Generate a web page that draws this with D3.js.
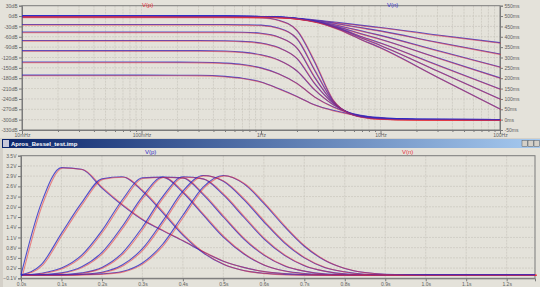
<!DOCTYPE html>
<html>
<head>
<meta charset="utf-8">
<script src="https://cdn.jsdelivr.net/npm/d3@7"></script>
<style>
html, body { margin:0; padding:0; background:#d4d0c8; }
svg { display:block; font-family:"Liberation Sans", Arial, sans-serif; }
</style>
</head>
<body>
<svg id="chart" width="540" height="287"></svg>
<script>
// ---- top pane: magnitude (dB, left) and group delay (ms, right) vs frequency
var freqs = [0.01, 0.1, 0.5, 1, 1.5, 2, 3, 4.5, 7, 10, 30, 100];
var magOrder2 = [0, 0, -0.5, -2, -4, -6.5, -12, -19, -27, -33, -55, -77];
var magOrder3 = [0, 0, -0.4, -1.8, -4, -7, -14, -23, -34, -43, -76, -110];
var magOrder4 = [0, 0, -0.3, -1.6, -3.8, -7.5, -16, -28, -43.5, -56, -100, -147.5];
var magOrder5 = [0, 0, -0.3, -1.5, -3.5, -7.5, -17, -32, -52, -67, -121, -179];
var magOrder6 = [0, 0, -0.2, -1.4, -3.3, -7.5, -18, -35, -60, -78, -142, -211];
var magOrder7 = [0, 0, -0.2, -1.3, -3, -7, -18, -37, -64, -85, -159, -240];
var magOrder8 = [0, 0, -0.2, -1.2, -2.8, -6.5, -18, -39, -69, -92, -177, -269];

var delayFreqs = [0.01, 0.1, 0.3, 0.5, 0.7, 1, 1.4, 2, 2.8, 4, 5.5, 8, 12, 20, 100];
var delayOrder2 = [215, 215, 214, 209, 200, 182, 150, 112, 72, 45, 28, 15, 7, 2.5, 0];
var delayOrder3 = [278, 278, 277, 273, 266, 250, 222, 175, 110, 62, 33, 14, 6, 2, 0];
var delayOrder4 = [333, 333, 333, 331, 326, 313, 288, 235, 145, 73, 33, 12, 5, 2, 0];
var delayOrder5 = [382, 382, 382, 381, 378, 370, 348, 295, 175, 80, 32, 11, 4, 1.5, 0];
var delayOrder6 = [423, 423, 423, 423, 422, 417, 399, 345, 205, 85, 31, 10, 3.5, 1, 0];
var delayOrder7 = [459, 459, 459, 459, 458, 456, 442, 390, 240, 90, 30, 9, 3, 1, 0];
var delayOrder8 = [495, 495, 495, 495, 494, 492, 480, 430, 280, 95, 30, 8, 3, 1, 0];

var dbTicks = [30, 0, -30, -60, -90, -120, -150, -180, -210, -240, -270, -300, -330];
var msTicks = [550, 500, 450, 400, 350, 300, 250, 200, 150, 100, 50, 0, -50];
var freqTicks = [0.01, 0.1, 1, 10, 100];
var freqLabels = ["10mHz", "100mHz", "1Hz", "10Hz", "100Hz"];

// ---- bottom pane: impulse responses
var times = [0, 0.05, 0.1, 0.15, 0.2, 0.25, 0.3, 0.35, 0.4, 0.45, 0.5, 0.55, 0.6, 0.65, 0.7, 0.75, 0.8, 0.85, 0.9, 1.0, 1.27];
var impOrder2 = [0, 2.1, 3.15, 3.1, 2.55, 2.05, 1.62, 1.3, 1.0, 0.68, 0.4, 0.22, 0.1, 0.04, 0.01, 0, 0, 0, 0, 0, 0];
var impOrder3 = [0, 0.3, 1.22, 2.12, 2.82, 2.88, 2.46, 1.83, 1.17, 0.65, 0.31, 0.13, 0.05, 0.01, 0, 0, 0, 0, 0, 0, 0];
var impOrder4 = [0, 0.05, 0.2, 0.58, 1.3, 2.2, 2.85, 2.87, 2.42, 1.76, 1.11, 0.62, 0.29, 0.12, 0.04, 0.01, 0, 0, 0, 0, 0];
var impOrder5 = [0, 0.01, 0.06, 0.24, 0.66, 1.42, 2.3, 2.87, 2.85, 2.36, 1.7, 1.06, 0.58, 0.27, 0.11, 0.03, 0.01, 0, 0, 0, 0];
var impOrder6 = [0, 0, 0.01, 0.06, 0.22, 0.64, 1.4, 2.3, 2.88, 2.82, 2.35, 1.7, 1.06, 0.58, 0.27, 0.11, 0.03, 0.01, 0, 0, 0];
var impOrder7 = [0, 0, 0, 0.02, 0.08, 0.29, 0.77, 1.58, 2.46, 2.92, 2.75, 2.22, 1.56, 0.95, 0.5, 0.22, 0.09, 0.02, 0, 0, 0];
var impOrder8 = [0, 0, 0, 0.01, 0.03, 0.1, 0.35, 0.9, 1.75, 2.58, 2.92, 2.68, 2.1, 1.43, 0.84, 0.43, 0.19, 0.07, 0.02, 0, 0];

var voltTicks = [3.5, 3.2, 2.9, 2.6, 2.3, 2.0, 1.7, 1.4, 1.1, 0.8, 0.5, 0.2, -0.1];
var timeTicks = [0, 0.1, 0.2, 0.3, 0.4, 0.5, 0.6, 0.7, 0.8, 0.9, 1.0, 1.1, 1.2];

var blueTrace = "#2b2bc8";
var redTrace = "#e8303a";
var gridColor = "#c8c6bd";
var axisColor = "#7a7a7a";
var labelColor = "#5e5e5e";
var paneColor = "#e4e2da";

var svg = d3.select("#chart");

function Pane(g, x0, y0, x1, y1) {
    g.append("rect")
        .attr("x", x0).attr("y", y0)
        .attr("width", x1 - x0).attr("height", y1 - y0)
        .attr("fill", paneColor);
}

function Trace(g, xs, ys, xScale, yScale, color, shift, opacity) {
    var pts = xs.map(function (d, i) { return [d, ys[i]]; });
    var line = d3.line()
        .x(function (d) { return xScale(d[0]); })
        .y(function (d) { return yScale(d[1]); })
        .curve(d3.curveMonotoneX);
    g.append("path")
        .attr("d", line(pts))
        .attr("fill", "none")
        .attr("stroke", color)
        .attr("stroke-width", 1.1)
        .attr("stroke-opacity", opacity)
        .attr("transform", "translate(" + shift[0] + "," + shift[1] + ")");
}

// ================= TOP PANE =================
var topPane = svg.append("g");
Pane(topPane, 0, 0, 540, 138);

var fx = d3.scaleLog().domain([0.01, 100]).range([22, 500]);
var yDb = d3.scaleLinear().domain([-330, 30]).range([130, 5.7]);
var yMs = d3.scaleLinear().domain([-50, 550]).range([130, 5.7]);

// grid
var minorFreqs = [];
[0.01, 0.1, 1, 10].forEach(function (dec) {
    for (var k = 1; k <= 9; k++) minorFreqs.push(dec * k);
});
minorFreqs.push(100);

topPane.append("g").selectAll("line")
    .data(minorFreqs.filter(function (d) { return d > 0.01 && d < 100; }))
    .enter().append("line")
    .attr("x1", function (d) { return fx(d); })
    .attr("x2", function (d) { return fx(d); })
    .attr("y1", 5.7).attr("y2", 130)
    .attr("stroke", gridColor)
    .attr("stroke-width", 0.7)
    .attr("stroke-dasharray", "2,1");

topPane.append("g").selectAll("line")
    .data(dbTicks.slice(1, -1))
    .enter().append("line")
    .attr("x1", 22).attr("x2", 500)
    .attr("y1", function (d) { return yDb(d); })
    .attr("y2", function (d) { return yDb(d); })
    .attr("stroke", gridColor)
    .attr("stroke-width", 0.7)
    .attr("stroke-dasharray", "2,1");

// frame
topPane.append("rect")
    .attr("x", 22).attr("y", 5.7)
    .attr("width", 478).attr("height", 124.3)
    .attr("fill", "none")
    .attr("stroke", axisColor)
    .attr("stroke-width", 1);

// left axis
var leftAxis = d3.axisLeft(yDb).tickValues(dbTicks).tickSize(3).tickPadding(1.5)
    .tickFormat(function (d) { return d + "dB"; });
topPane.append("g").attr("transform", "translate(22,0)").call(leftAxis);

// right axis
var rightAxis = d3.axisRight(yMs).tickValues(msTicks).tickSize(3).tickPadding(1.5)
    .tickFormat(function (d) { return d + "ms"; });
topPane.append("g").attr("transform", "translate(500,0)").call(rightAxis);

// bottom axis
var freqAxis = d3.axisBottom(fx).tickValues(minorFreqs).tickSize(2).tickPadding(1.5)
    .tickFormat(function (d) {
        var i = freqTicks.indexOf(d);
        return i >= 0 ? freqLabels[i] : "";
    });
var gb = topPane.append("g").attr("transform", "translate(0,130)").call(freqAxis);
gb.selectAll(".tick line").attr("y2", function (d) { return freqTicks.indexOf(d) >= 0 ? 4 : 2; });

// traces
var mags = [magOrder2, magOrder3, magOrder4, magOrder5, magOrder6, magOrder7, magOrder8];
var delays = [delayOrder2, delayOrder3, delayOrder4, delayOrder5, delayOrder6, delayOrder7, delayOrder8];
var topTraces = topPane.append("g");
delays.forEach(function (d) {
    Trace(topTraces, delayFreqs, d, fx, yMs, blueTrace, [0, 0], 0.8);
    Trace(topTraces, delayFreqs, d, fx, yMs, redTrace, [0.8, 0.6], 0.5);
});
mags.forEach(function (d) {
    Trace(topTraces, freqs, d, fx, yDb, blueTrace, [0, 0], 0.8);
    Trace(topTraces, freqs, d, fx, yDb, redTrace, [0.8, 0.6], 0.5);
});

topPane.append("text").text("V(p)")
    .attr("x", 142).attr("y", 6.5)
    .style("font-size", "6px").style("fill", redTrace);
topPane.append("text").text("V(n)")
    .attr("x", 387).attr("y", 6.5)
    .style("font-size", "6px").style("fill", blueTrace);

// ================= BOTTOM PANE =================
var botPane = svg.append("g");
botPane.append("rect").attr("x", 0).attr("y", 138).attr("width", 540).attr("height", 149).attr("fill", "#d4d0c8");
var grad = svg.append("defs").append("linearGradient").attr("id", "titleGrad");
grad.append("stop").attr("offset", "0%").attr("stop-color", "#0a246a");
grad.append("stop").attr("offset", "100%").attr("stop-color", "#a6caf0");
botPane.append("rect").attr("x", 2).attr("y", 139).attr("width", 538).attr("height", 9).attr("fill", "url(#titleGrad)");
botPane.append("rect").attr("x", 3).attr("y", 140).attr("width", 6).attr("height", 7).attr("fill", "#c8c8d8");
botPane.append("text").text("Apros_Bessel_test.imp")
    .attr("x", 11).attr("y", 146.3)
    .style("font-size", "6px").style("font-weight", "bold").style("fill", "#ffffff");
[522, 528, 534].forEach(function (bx) {
    botPane.append("rect").attr("x", bx).attr("y", 140.5).attr("width", 5.5).attr("height", 6)
        .attr("fill", "#d4d0c8").attr("stroke", "#404040").attr("stroke-width", 0.4);
});
Pane(botPane, 3, 148, 540, 287);

var tx = d3.scaleLinear().domain([0, 1.27]).range([21, 535]);
var yV = d3.scaleLinear().domain([-0.1, 3.5]).range([278.3, 155.7]);

botPane.append("g").selectAll("line")
    .data(timeTicks.slice(1))
    .enter().append("line")
    .attr("x1", function (d) { return tx(d); })
    .attr("x2", function (d) { return tx(d); })
    .attr("y1", 155.7).attr("y2", 278.3)
    .attr("stroke", gridColor)
    .attr("stroke-width", 0.7)
    .attr("stroke-dasharray", "2,1");
botPane.append("g").selectAll("line")
    .data(voltTicks.slice(1, -1))
    .enter().append("line")
    .attr("x1", 21).attr("x2", 535)
    .attr("y1", function (d) { return yV(d); })
    .attr("y2", function (d) { return yV(d); })
    .attr("stroke", gridColor)
    .attr("stroke-width", 0.7)
    .attr("stroke-dasharray", "2,1");

botPane.append("rect")
    .attr("x", 21).attr("y", 155.7)
    .attr("width", 514).attr("height", 122.6)
    .attr("fill", "none")
    .attr("stroke", axisColor)
    .attr("stroke-width", 1);

var vAxis = d3.axisLeft(yV).tickValues(voltTicks).tickSize(3).tickPadding(1.5)
    .tickFormat(function (d) { return d3.format(".1f")(d) + "V"; });
botPane.append("g").attr("transform", "translate(21,0)").call(vAxis);
var tAxis = d3.axisBottom(tx).tickValues(timeTicks).tickSize(3).tickPadding(1.5)
    .tickFormat(function (d) { return d3.format(".1f")(d) + "s"; });
botPane.append("g").attr("transform", "translate(0,278.3)").call(tAxis);

var imps = [impOrder2, impOrder3, impOrder4, impOrder5, impOrder6, impOrder7, impOrder8];
var botTraces = botPane.append("g");
imps.forEach(function (d) {
    Trace(botTraces, times, d, tx, yV, blueTrace, [0, 0], 0.8);
    Trace(botTraces, times, d, tx, yV, redTrace, [1.5, 0.4], 0.55);
});

botPane.append("text").text("V(p)")
    .attr("x", 145).attr("y", 153.5)
    .style("font-size", "6px").style("fill", blueTrace);
botPane.append("text").text("V(n)")
    .attr("x", 402).attr("y", 153.5)
    .style("font-size", "6px").style("fill", redTrace);

// axis styling shared
svg.selectAll(".domain").attr("stroke", axisColor);
svg.selectAll(".tick line").attr("stroke", axisColor);
svg.selectAll(".tick text")
    .style("font-size", "5px")
    .style("fill", labelColor)
    .style("font-family", "'Liberation Sans', Arial, sans-serif");
</script>
</body>
</html>
